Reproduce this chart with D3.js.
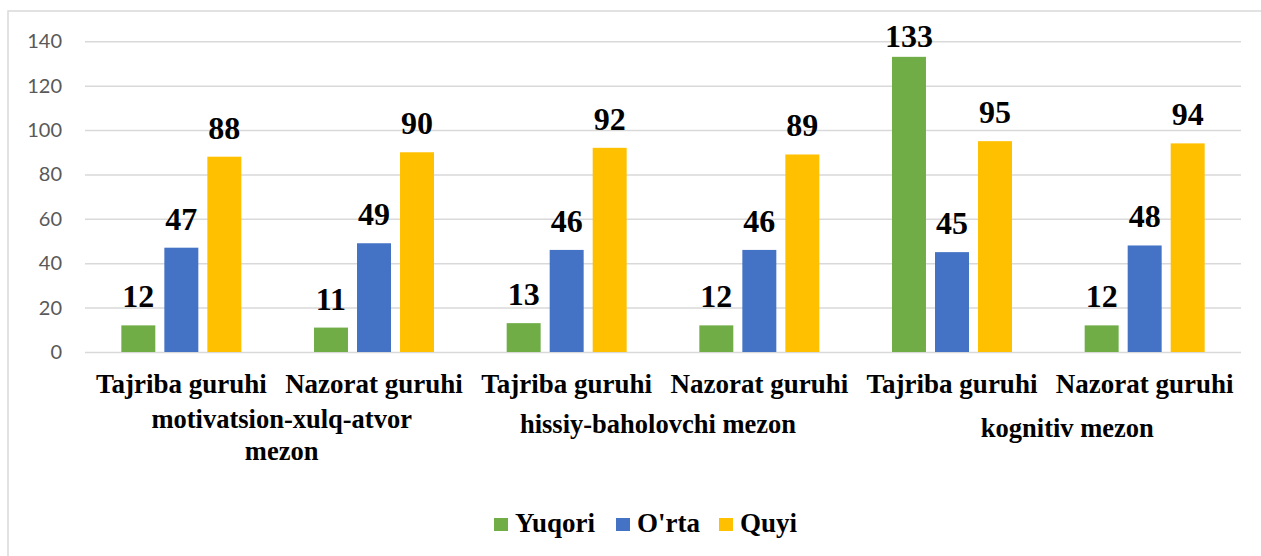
<!DOCTYPE html>
<html>
<head>
<meta charset="utf-8">
<script src="https://cdn.jsdelivr.net/npm/d3@7"></script>
<style>
  html, body { margin: 0; padding: 0; background: #fff; }
  svg { display: block; }
  .serif { font-family: "Liberation Serif", "Times New Roman", Tinos, "DejaVu Serif", serif; font-weight: bold; fill: #000; }
  .tick text { font-family: Lato, "Open Sans", sans-serif; fill: #595959; }
</style>
</head>
<body>
<svg id="chart" width="1261" height="556"></svg>
<script>
const categories = ["Tajriba guruhi", "Nazorat guruhi", "Tajriba guruhi", "Nazorat guruhi", "Tajriba guruhi", "Nazorat guruhi"];
const groupLabels = [["motivatsion-xulq-atvor", "mezon"], ["hissiy-baholovchi mezon"], ["kognitiv mezon"]];
const seriesNames = ["Yuqori", "O'rta", "Quyi"];
const yuqori = [12, 11, 13, 12, 133, 12];
const orta = [47, 49, 46, 46, 45, 48];
const quyi = [88, 90, 92, 89, 95, 94];
const yTicks = [0, 20, 40, 60, 80, 100, 120, 140];
const colors = ["#70AD47", "#4472C4", "#FFC000"];

(function () {
const series = [yuqori, orta, quyi];
const svg = d3.select("#chart");

// chart border
svg.append("rect").attr("x", 8).attr("y", 11).attr("width", 1300).attr("height", 600)
  .attr("fill", "none").attr("stroke", "#d9d9d9").attr("stroke-width", 1.5);

const pLeft = 85, pRight = 1241, pTop = 41.3, pBottom = 352;
const x0 = d3.scaleBand().domain(d3.range(categories.length)).range([pLeft, pRight]).paddingInner(0).paddingOuter(0);
const x1 = d3.scaleBand().domain(d3.range(series.length)).range([0, 120]).paddingInner(0.21).paddingOuter(0);
const y = d3.scaleLinear().domain([0, 140]).range([pBottom, pTop]);

// gridlines
const yAxis = d3.axisLeft(y).tickValues(yTicks).tickSize(-(pRight - pLeft)).tickPadding(23);
const gAxis = svg.append("g").attr("transform", `translate(${pLeft},0)`).call(yAxis);
gAxis.attr("font-family", null);
gAxis.select(".domain").remove();
gAxis.selectAll(".tick line").attr("stroke", "#d9d9d9").attr("stroke-width", 1.5);
gAxis.selectAll(".tick text").attr("font-size", 20);

// bars
const groupOffset = (x0.bandwidth() - 120) / 2;
const gCats = svg.append("g").selectAll("g").data(categories).join("g")
  .attr("transform", (d, i) => `translate(${x0(i) + groupOffset},0)`);

gCats.each(function(c, ci) {
  const g = d3.select(this);
  series.forEach((s, si) => {
    g.append("rect")
      .attr("x", x1(si))
      .attr("y", y(s[ci]))
      .attr("width", x1.bandwidth())
      .attr("height", pBottom - y(s[ci]))
      .attr("fill", colors[si]);
    g.append("text")
      .attr("class", "serif")
      .attr("x", x1(si) + x1.bandwidth() / 2)
      .attr("y", Math.max(y(s[ci]) - 18, pTop + 5.5))
      .attr("text-anchor", "middle")
      .style("font-size", "32px")
      .text(s[ci]);
  });
});

// category labels
svg.append("g").selectAll("text").data(categories).join("text")
  .attr("class", "serif")
  .attr("x", (d, i) => x0(i) + x0.bandwidth() / 2)
  .attr("y", 393)
  .attr("text-anchor", "middle")
  .style("font-size", "27px")
  .text(d => d);

// group labels
const groupDx = [4, -5, 19];
const groupY = [428, 433, 437];
groupLabels.forEach((lines, gi) => {
  const cx = x0(gi * 2) + x0.bandwidth() + groupDx[gi];
  const t = svg.append("text")
    .attr("class", "serif")
    .attr("x", cx)
    .attr("y", groupY[gi])
    .attr("text-anchor", "middle")
    .style("font-size", "26.5px");
  lines.forEach((ln, li) => {
    t.append("tspan").attr("x", cx).attr("dy", li === 0 ? 0 : 32).text(ln);
  });
});

// legend
const legendX = [494, 616, 719];
const legend = svg.append("g");
seriesNames.forEach((name, i) => {
  legend.append("rect").attr("x", legendX[i]).attr("y", 518).attr("width", 14).attr("height", 13).attr("fill", colors[i]);
  legend.append("text").attr("class", "serif").attr("x", legendX[i] + 21).attr("y", 532)
    .style("font-size", "27px")
    .text(name);
});
})();
</script>
</body>
</html>
